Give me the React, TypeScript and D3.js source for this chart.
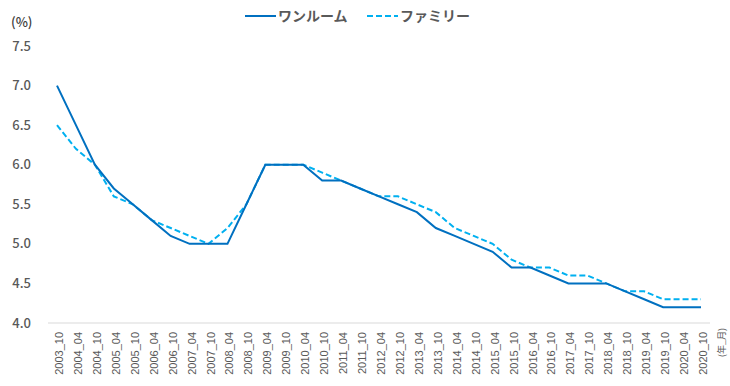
import React, { useEffect, useRef } from 'react';
import * as d3 from 'd3';

const categories = [
  '2003_10', '2004_04', '2004_10', '2005_04', '2005_10', '2006_04', '2006_10',
  '2007_04', '2007_10', '2008_04', '2008_10', '2009_04', '2009_10', '2010_04',
  '2010_10', '2011_04', '2011_10', '2012_04', '2012_10', '2013_04', '2013_10',
  '2014_04', '2014_10', '2015_04', '2015_10', '2016_04', '2016_10', '2017_04',
  '2017_10', '2018_04', '2018_10', '2019_04', '2019_10', '2020_04', '2020_10',
];

const oneRoom = [
  7.0, 6.5, 6.0, 5.7, 5.5, 5.3, 5.1, 5.0, 5.0, 5.0, 5.5, 6.0, 6.0, 6.0,
  5.8, 5.8, 5.7, 5.6, 5.5, 5.4, 5.2, 5.1, 5.0, 4.9, 4.7, 4.7, 4.6, 4.5,
  4.5, 4.5, 4.4, 4.3, 4.2, 4.2, 4.2,
];

const family = [
  6.5, 6.2, 6.0, 5.6, 5.5, 5.3, 5.2, 5.1, 5.0, 5.2, 5.5, 6.0, 6.0, 6.0,
  5.9, 5.8, 5.7, 5.6, 5.6, 5.5, 5.4, 5.2, 5.1, 5.0, 4.8, 4.7, 4.7, 4.6,
  4.6, 4.5, 4.4, 4.4, 4.3, 4.3, 4.3,
];

const yTicks = [4.0, 4.5, 5.0, 5.5, 6.0, 6.5, 7.0, 7.5];

const seriesNames = ['ワンルーム', 'ファミリー'];
const colors = ['#0070C0', '#00B0F0'];

const W = 730;
const H = 386;
const FONT = '"Noto Sans CJK JP", "Noto Sans", sans-serif';
const LABEL_FONT = '"Liberation Sans", Arial, sans-serif';

export default function App() {
  const ref = useRef<SVGSVGElement>(null);

  useEffect(() => {
    const svg = d3.select(ref.current);
    svg.selectAll('*').remove();

    const x = d3.scalePoint<string>()
      .domain(categories)
      .range([57, 701]);
    const y = d3.scaleLinear()
      .domain([4.0, 7.5])
      .range([323, 46]);

    // baseline
    svg.append('line')
      .attr('x1', 48).attr('x2', 710)
      .attr('y1', y(4.0)).attr('y2', y(4.0))
      .attr('stroke', '#d9d9d9').attr('stroke-width', 1);

    // y labels
    svg.append('g')
      .selectAll('text')
      .data(yTicks)
      .enter()
      .append('text')
      .attr('x', 31)
      .attr('y', d => y(d))
      .attr('dy', '0.35em')
      .attr('text-anchor', 'end')
      .attr('font-family', FONT)
      .attr('font-size', 13)
      .attr('font-weight', 500)
      .attr('fill', '#595959')
      .text(d => d.toFixed(1));

    svg.append('text')
      .attr('x', 11).attr('y', 27)
      .attr('font-family', FONT)
      .attr('font-size', 13)
      .attr('font-weight', 500)
      .attr('fill', '#404040')
      .text('(%)');

    // x labels
    svg.append('g')
      .selectAll('text')
      .data(categories)
      .enter()
      .append('text')
      .attr('transform', d => `translate(${x(d)! + 6},332) rotate(-90)`)
      .attr('text-anchor', 'end')
      .attr('font-family', LABEL_FONT)
      .attr('font-size', 11)
      .attr('fill', '#595959')
      .text(d => d);

    svg.append('text')
      .attr('transform', 'translate(725,328) rotate(-90)')
      .attr('text-anchor', 'end')
      .attr('font-family', FONT)
      .attr('font-size', 9)
      .attr('fill', '#595959')
      .text('(年_月)');

    const line = d3.line<number>()
      .x((_, i) => x(categories[i])!)
      .y(d => y(d));

    svg.append('path')
      .datum(family)
      .attr('d', line)
      .attr('fill', 'none')
      .attr('stroke', colors[1])
      .attr('stroke-width', 2)
      .attr('stroke-dasharray', '6,3');

    svg.append('path')
      .datum(oneRoom)
      .attr('d', line)
      .attr('fill', 'none')
      .attr('stroke', colors[0])
      .attr('stroke-width', 2);

    // legend
    const legend = [
      { name: seriesNames[0], color: colors[0], dash: null, x: 245 },
      { name: seriesNames[1], color: colors[1], dash: '6,3', x: 367 },
    ];
    legend.forEach(l => {
      svg.append('line')
        .attr('x1', l.x).attr('x2', l.x + 31)
        .attr('y1', 16).attr('y2', 16)
        .attr('stroke', l.color)
        .attr('stroke-width', 2)
        .attr('stroke-dasharray', l.dash);
      svg.append('text')
        .attr('x', l.x + 33).attr('y', 16)
        .attr('dy', '0.35em')
        .attr('font-family', FONT)
        .attr('font-size', 14)
        .attr('font-weight', 700)
        .attr('fill', '#595959')
        .text(l.name);
    });
  }, []);

  return (
    <svg ref={ref} width={W} height={H}
      style={{ position: 'absolute', left: 0, top: 0, background: '#fff' }} />
  );
}
